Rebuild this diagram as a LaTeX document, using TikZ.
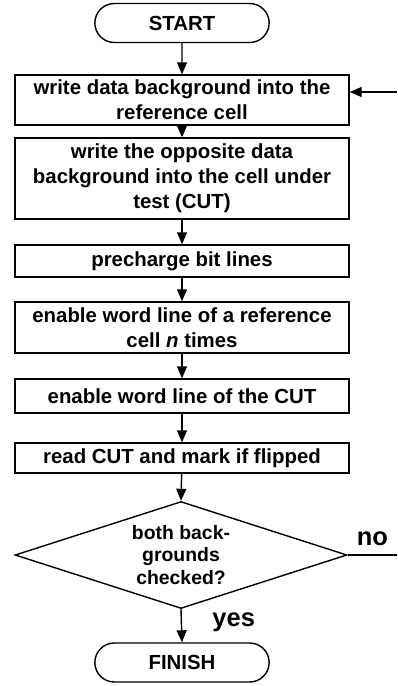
\documentclass[tikz,border=0pt]{standalone}
\usepackage{fontspec}
\setmainfont{Liberation Sans}
\usetikzlibrary{shapes.misc,shapes.geometric,arrows.meta}

\begin{document}
\begin{tikzpicture}[x=1pt, y=-1pt,
	every node/.style={text=black, font=\bfseries\fontsize{20.4}{25}\selectfont},
	terminal/.style={draw=black, line width=1.4pt, shape=rounded rectangle, minimum width=181pt, minimum height=39pt},
	stepbox/.style={draw=black, line width=1.4pt, shape=rectangle, minimum width=334pt, inner sep=0pt, align=center},
	decision/.style={draw=black, line width=1.4pt, shape=diamond, aspect=3.1, minimum width=332pt, minimum height=107pt, inner sep=0pt, align=center, font=\bfseries\fontsize{19.4}{22.5}\selectfont},
	answer/.style={font=\bfseries\fontsize{25.5}{30}\selectfont},
	flow/.style={line width=1.4pt, -{Triangle[length=12pt, width=10pt]}}]
	\useasboundingbox (0,0) rectangle (397,686);

	\node[terminal] (start) at (182,23) {START};
	\node[stepbox, minimum height=50pt] (wref) at (182,100) {write data background into the\\ reference cell};
	\node[stepbox, minimum height=81pt] (wcut) at (182,178.5) {write the opposite data\\ background into the cell under\\ test (CUT)};
	\node[stepbox, minimum height=32pt] (prech) at (182,261) {precharge bit lines};
	\node[stepbox, minimum height=51pt] (enref) at (182,327.5) {enable word line of a reference\\ cell \textit{n} times};
	\node[stepbox, minimum height=34pt] (encut) at (182,396) {enable word line of the CUT};
	\node[stepbox, minimum height=30pt] (rdcut) at (182,458) {read CUT and mark if flipped};
	\node[decision] (check) at (181,555) {both back-\\ grounds\\ checked?};
	\node[terminal] (finish) at (182,662.5) {FINISH};

	\coordinate (noend) at (397,555);
	\coordinate (backin) at (397,92);

	\draw[flow] (start) -- (wref);
	\draw[flow] (wref) -- (wcut);
	\draw[flow] (wcut) -- (prech);
	\draw[flow] (prech) -- (enref);
	\draw[flow] (enref) -- (encut);
	\draw[flow] (encut) -- (rdcut);
	\draw[flow] (rdcut) -- (check.north);
	\draw[flow] (check.south) -- node[answer, pos=0.4, right=27pt] {yes} (finish.north);

	\draw[line width=1.4pt] (check.east) -- node[answer, above=5pt] {no} (noend);
	\draw[flow] (backin) -- (backin -| wref.east);
\end{tikzpicture}
\end{document}
